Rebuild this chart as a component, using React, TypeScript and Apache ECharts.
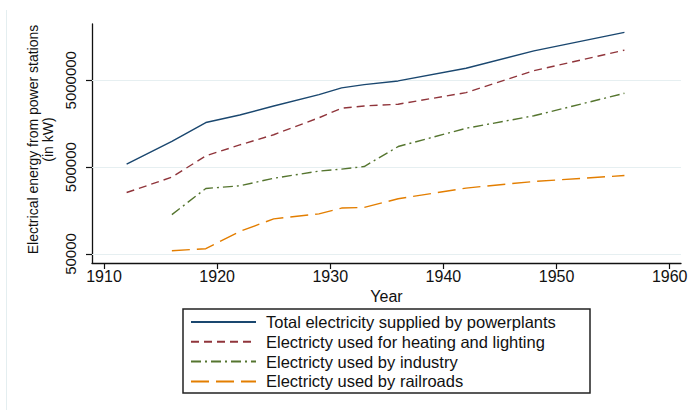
import React, { useEffect, useRef } from "react";
import * as echarts from "echarts";

const years = [1912, 1916, 1919, 1922, 1925, 1929, 1931, 1933, 1936, 1942, 1948, 1956];
const totalSupplied = [540000, 990000, 1630000, 1990000, 2530000, 3410000, 4080000, 4450000, 4910000, 6870000, 10900000, 17800000];
const heatingLighting = [255000, 383000, 675000, 900000, 1180000, 1850000, 2380000, 2530000, 2650000, 3600000, 6440000, 11100000];
const industry = [null, 142000, 284000, 305000, 372000, 450000, 474000, 508000, 863000, 1400000, 1950000, 3540000];
const railroads = [null, 54600, 57500, 91000, 127000, 145000, 169000, 172000, 216000, 287000, 342000, 400000];

const seriesNames = [
  "Total electricity supplied by powerplants",
  "Electricty used for heating and lighting",
  "Electricty used by industry",
  "Electricty used by railroads",
];
const xTicks = [1910, 1920, 1930, 1940, 1950, 1960];
const yTicks = [50000, 500000, 5000000];

const FONT = "'Liberation Sans', Arial, Helvetica, sans-serif";

function pairs(vals: (number | null)[]) {
  return years.map((y, i) => [y, vals[i]]).filter((p) => p[1] !== null);
}

export default function App() {
  const ref = useRef<HTMLDivElement>(null);
  useEffect(() => {
    if (!ref.current) return;
    const chart = echarts.init(ref.current, null, { renderer: "svg" });
    const lineBase = { type: "line", symbol: "none", showSymbol: false, silent: true };
    chart.setOption({
      animation: false,
      backgroundColor: "#ffffff",
      textStyle: { fontFamily: FONT },
      grid: { left: 92, right: 14, top: 24, bottom: 147, outerBoundsMode: "none", containLabel: false },
      xAxis: {
        type: "value",
        min: 1908.94,
        max: 1961.0,
        name: "Year",
        nameLocation: "middle",
        nameGap: 24,
        nameTextStyle: { fontSize: 16, color: "#111", fontFamily: FONT },
        axisLine: { show: true, lineStyle: { color: "#111", width: 1.3 } },
        axisTick: { show: true, length: 6, customValues: xTicks, lineStyle: { color: "#111", width: 1.2 } },
        axisLabel: {
          customValues: xTicks,
          fontSize: 16,
          color: "#111",
          margin: 5,
          fontFamily: FONT,
          formatter: (v: number) => String(Math.round(v)),
        },
        splitLine: { show: false },
      },
      yAxis: {
        type: "log",
        logBase: 10,
        min: 39400,
        max: 22200000,
        name: "Electrical energy from power stations\n(in kW)",
        nameLocation: "middle",
        nameRotate: 90,
        nameGap: 30,
        nameTextStyle: { fontSize: 14, lineHeight: 15, color: "#111", fontFamily: FONT, padding: [0, 0, 0, 8] },
        axisLine: { show: true, lineStyle: { color: "#111", width: 1.3 } },
        axisTick: { show: true, length: 6, customValues: yTicks, lineStyle: { color: "#111", width: 1.2 } },
        axisLabel: {
          customValues: yTicks,
          rotate: 90,
          fontSize: 15,
          color: "#111",
          margin: 14,
          fontFamily: FONT,
          formatter: (v: number) => String(Math.round(v)),
        },
        splitLine: { show: false },
      },
      legend: {
        orient: "vertical",
        left: 190,
        top: 313.5,
        padding: 0,
        itemWidth: 65,
        itemHeight: 15,
        itemGap: 2.8,
        itemStyle: { opacity: 0, borderWidth: 0 },
        textStyle: { fontSize: 16.5, color: "#111", fontFamily: FONT, padding: [0, 0, 0, 5] },
        data: seriesNames,
      },
      graphic: [
        {
          type: "line",
          shape: { x1: 6.5, y1: 10, x2: 6.5, y2: 410 },
          style: { stroke: "#e4eef0", lineWidth: 1 },
          silent: true,
        },
        {
          type: "rect",
          shape: { x: 183, y: 309, width: 407, height: 84 },
          style: { fill: "none", stroke: "#222", lineWidth: 1.5 },
          silent: true,
        },
      ],
      series: [
        {
          ...lineBase,
          name: seriesNames[0],
          data: pairs(totalSupplied),
          lineStyle: { color: "#1a476f", width: 1.4, type: "solid" },
          itemStyle: { color: "#1a476f" },
          z: 5,
          markLine: {
            silent: true,
            symbol: "none",
            label: { show: false },
            lineStyle: { color: "#e6eff1", width: 1.2, type: "solid" },
            emphasis: { disabled: true },
            data: yTicks.map((v) => ({ yAxis: v })),
            z: 1,
          },
        },
        {
          ...lineBase,
          name: seriesNames[1],
          data: pairs(heatingLighting),
          lineStyle: { color: "#90353b", width: 1.4, type: [8, 5] },
          itemStyle: { color: "#90353b" },
          z: 5,
        },
        {
          ...lineBase,
          name: seriesNames[2],
          data: pairs(industry),
          lineStyle: { color: "#55752f", width: 1.4, type: [10, 4, 2, 4] },
          itemStyle: { color: "#55752f" },
          z: 5,
        },
        {
          ...lineBase,
          name: seriesNames[3],
          data: pairs(railroads),
          lineStyle: { color: "#e37e00", width: 1.4, type: [18, 7] },
          itemStyle: { color: "#e37e00" },
          z: 5,
        },
      ],
    });
    return () => chart.dispose();
  }, []);
  return (
    <div
      ref={ref}
      style={{ position: "fixed", left: 0, top: 0, width: 695, height: 410, background: "#fff" }}
    />
  );
}
